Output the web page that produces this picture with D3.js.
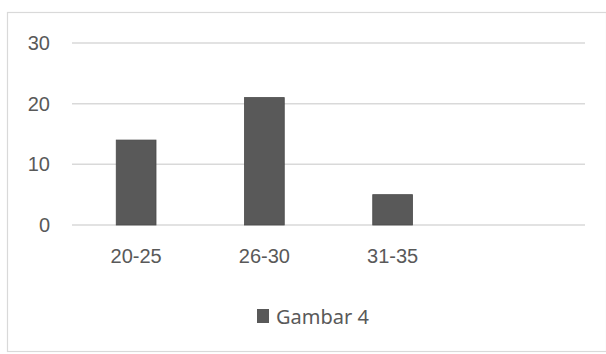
<!DOCTYPE html>
<html>
<head>
<meta charset="utf-8">
<script src="https://cdn.jsdelivr.net/npm/d3@7"></script>
<style>
  html, body { margin: 0; padding: 0; background: #ffffff; }
  svg { display: block; font-family: "Noto Sans", "Open Sans", sans-serif; }
</style>
</head>
<body>
<svg id="chart" width="606" height="354"></svg>
<script>
// Age groups (the fourth slot is an empty category)
const categories = ["20-25", "26-30", "31-35", ""];
const values = [14, 21, 5, null];
const yTicks = [0, 10, 20, 30];
const seriesName = "Gambar 4";

const svg = d3.select("#chart");
const W = 606, H = 354;
const margin = { left: 72, right: 21, top: 43, bottom: 129 };
const plotW = W - margin.left - margin.right;
const plotH = H - margin.top - margin.bottom;

// Chart frame
svg.append("rect")
  .attr("x", 7.5).attr("y", 12.5)
  .attr("width", W - 7).attr("height", 339)
  .attr("fill", "#ffffff")
  .attr("stroke", "#d9d9d9").attr("stroke-width", 1.2);

const g = svg.append("g").attr("transform", `translate(${margin.left},${margin.top})`);

const x = d3.scaleBand()
  .domain(categories.map((c, i) => i))
  .range([0, plotW])
  .paddingInner(0.69)
  .paddingOuter(0.345);

const y = d3.scaleLinear().domain([0, 30]).range([plotH, 0]);

// Horizontal gridlines
g.selectAll("line.grid")
  .data(yTicks)
  .join("line")
  .attr("class", "grid")
  .attr("x1", 0).attr("x2", plotW)
  .attr("y1", d => y(d)).attr("y2", d => y(d))
  .attr("stroke", "#d9d9d9").attr("stroke-width", 1.5);

// Y axis labels
const yAxis = d3.axisLeft(y).tickValues(yTicks).tickSize(0).tickPadding(22);
const yg = g.append("g").call(yAxis);
yg.select(".domain").remove();
yg.selectAll("text")
  .attr("fill", "#595959")
  .style("font-size", "20px");

// Bars
g.selectAll("rect.bar")
  .data(values.map((v, i) => ({ i, v })).filter(d => d.v != null))
  .join("rect")
  .attr("class", "bar")
  .attr("x", d => x(d.i))
  .attr("width", x.bandwidth())
  .attr("y", d => y(d.v))
  .attr("height", d => y(0) - y(d.v))
  .attr("fill", "#595959")
  .attr("stroke", "#4a4a4a").attr("stroke-width", 0.8);

// X axis labels
const xAxis = d3.axisBottom(x).tickFormat(i => categories[i]).tickSize(0).tickPadding(24);
const xg = g.append("g").attr("transform", `translate(0,${plotH})`).call(xAxis);
xg.select(".domain").remove();
xg.selectAll("text")
  .attr("fill", "#595959")
  .style("font-size", "20px");

// Legend
const legend = svg.append("g").attr("transform", "translate(257,309)");
legend.append("rect")
  .attr("width", 12).attr("height", 14)
  .attr("fill", "#595959");
legend.append("text")
  .attr("x", 19).attr("y", 15)
  .attr("fill", "#595959")
  .style("font-size", "20px")
  .text(seriesName);
</script>
</body>
</html>
